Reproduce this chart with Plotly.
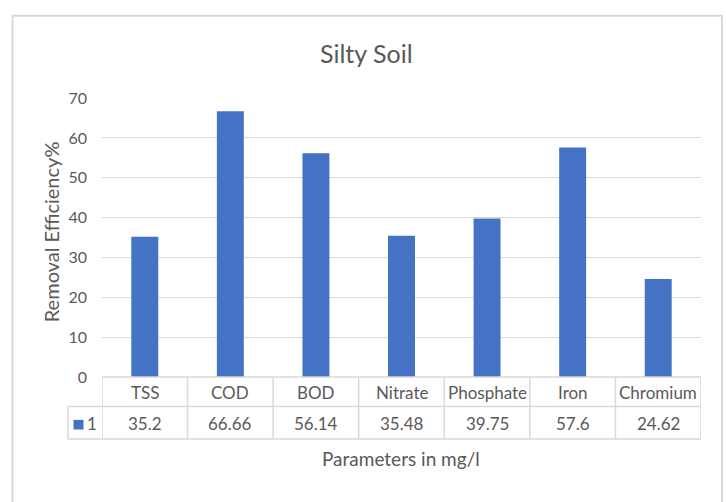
import plotly.graph_objects as go

categories = ["TSS", "COD", "BOD", "Nitrate", "Phosphate", "Iron", "Chromium"]
values = [35.2, 66.66, 56.14, 35.48, 39.75, 57.6, 24.62]
series_name = "1"
y_ticks = [0, 10, 20, 30, 40, 50, 60, 70]

W, H = 726, 502
FONT = "Lato"
TXT = "#595959"
GRID = "#d9d9d9"
BAR = "#4472C4"


def px(x):
    return x / W


def py(y):
    return 1 - y / H


def label(text, x, y, size, xref="paper", angle=0):
    return dict(text=text, xref=xref, yref="paper", x=x, y=y, xanchor="center", yanchor="middle",
                textangle=angle, showarrow=False, font=dict(family=FONT, size=size, color=TXT))


fig = go.Figure()
fig.add_trace(go.Bar(x=categories, y=values, marker=dict(color=BAR, line=dict(width=0)),
                     name=series_name, showlegend=False, hoverinfo="skip"))

shapes = []
annotations = []

# outer chart border
shapes.append(dict(type="rect", xref="paper", yref="paper", x0=px(12.5), x1=px(722), y0=py(515), y1=py(6),
                   line=dict(color=GRID, width=2), layer="below"))

# data table
row_top, row_mid, row_bot = 381.5, 412, 446
n = len(categories)
for i in range(n + 1):
    shapes.append(dict(type="line", xref="x", yref="paper", x0=i - 0.5, x1=i - 0.5,
                       y0=py(row_bot), y1=py(row_top), line=dict(color=GRID, width=1.5)))
shapes.append(dict(type="line", xref="paper", yref="paper", x0=px(68), x1=px(68),
                   y0=py(row_bot), y1=py(row_mid), line=dict(color=GRID, width=1.5)))
shapes.append(dict(type="line", xref="x", yref="paper", x0=-0.5, x1=n - 0.5,
                   y0=py(row_top), y1=py(row_top), line=dict(color=GRID, width=1.5)))
for yy in (row_mid, row_bot):
    shapes.append(dict(type="line", xref="paper", yref="paper", x0=px(68), x1=px(701),
                       y0=py(yy), y1=py(yy), line=dict(color=GRID, width=1.5)))

# legend key in table
shapes.append(dict(type="rect", xref="paper", yref="paper", x0=px(73.5), x1=px(83.5), y0=py(436), y1=py(426),
                   fillcolor=BAR, line=dict(width=0)))
annotations.append(label(series_name, px(92), py(430), 17))

for c, v in zip(categories, values):
    annotations.append(label(c, c, py(397.5), 17, xref="x"))
    annotations.append(label(f"{v:g}", c, py(430), 17, xref="x"))

# title and axis titles
annotations.append(label("Silty Soil", px(367), py(45), 25))
annotations.append(label("Removal Efficiency%", px(51), py(231), 20, angle=-90))
annotations.append(label("Parameters in mg/l", px(401), py(466), 19))

fig.update_layout(
    width=W, height=H,
    margin=dict(l=0, r=0, t=0, b=0),
    paper_bgcolor="white", plot_bgcolor="white",
    bargap=0.685,
    hovermode=False,
    shapes=shapes, annotations=annotations,
    xaxis=dict(domain=[px(102), px(701)], range=[-0.5, n - 0.5], showticklabels=False,
               showgrid=False, zeroline=False, showline=False, ticks="", fixedrange=True),
    yaxis=dict(domain=[py(381.5), py(91.5)], range=[0, 70], tickvals=y_ticks,
               showgrid=True, gridcolor=GRID, gridwidth=1.3, zeroline=False, showline=False,
               ticks="", ticklabelstandoff=14, fixedrange=True,
               tickfont=dict(family=FONT, size=16, color=TXT)),
    font=dict(family=FONT, color=TXT),
)

fig.write_html("out.html", config={"displayModeBar": False},
               post_script="document.body.style.margin='0';document.body.style.overflow='hidden';")
